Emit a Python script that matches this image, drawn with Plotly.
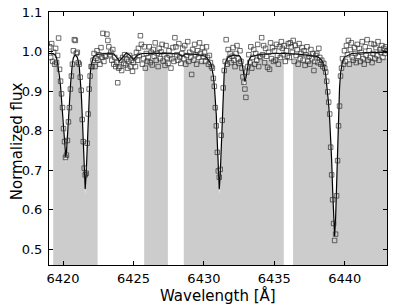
import numpy as np
import plotly.graph_objects as go

# ---- model spectrum ----
model_wave = [6419.0, 6419.3, 6419.47, 6419.54, 6419.61, 6419.68, 6419.75, 6419.82, 6419.89, 6419.96,
              6420.03, 6420.10, 6420.19, 6420.24, 6420.31, 6420.38, 6420.45, 6420.52, 6420.59, 6420.66,
              6420.73, 6420.85, 6421.0, 6421.08, 6421.15, 6421.22, 6421.29, 6421.36, 6421.43, 6421.50,
              6421.57, 6421.64, 6421.71, 6421.78, 6421.85, 6421.92, 6421.99, 6422.06, 6422.13, 6422.2,
              6422.4, 6423.0, 6423.6, 6423.8, 6424.0, 6424.25, 6424.5, 6424.75, 6425.0, 6425.25,
              6425.6, 6426.5, 6427.5, 6428.2, 6428.45, 6428.7, 6429.5, 6430.1, 6430.25, 6430.39,
              6430.46, 6430.53, 6430.60, 6430.67, 6430.74, 6430.81, 6430.88, 6430.95, 6431.02, 6431.09,
              6431.16, 6431.23, 6431.30, 6431.37, 6431.44, 6431.51, 6431.58, 6431.72, 6432.1, 6432.5,
              6432.63, 6432.70, 6432.77, 6432.84, 6432.91, 6432.98, 6433.05, 6433.12, 6433.19, 6433.33,
              6434.0, 6435.0, 6436.0, 6437.0, 6437.5, 6438.0, 6438.23, 6438.37, 6438.44, 6438.51,
              6438.58, 6438.65, 6438.72, 6438.79, 6438.86, 6438.93, 6439.00, 6439.07, 6439.14, 6439.21,
              6439.28, 6439.35, 6439.42, 6439.49, 6439.56, 6439.63, 6439.70, 6439.77, 6439.84, 6439.98,
              6440.5, 6441.5, 6443.0]
model_flux = [0.995, 0.995, 0.990, 0.983, 0.970, 0.955, 0.935, 0.912, 0.880, 0.840,
              0.800, 0.765, 0.733, 0.745, 0.780, 0.822, 0.868, 0.912, 0.948, 0.970,
              0.984, 0.992, 0.986, 0.976, 0.960, 0.932, 0.895, 0.838, 0.770, 0.705,
              0.652, 0.690, 0.762, 0.840, 0.900, 0.940, 0.964, 0.977, 0.984, 0.988,
              0.993, 0.995, 0.994, 0.985, 0.976, 0.986, 0.997, 0.990, 0.980, 0.990,
              0.995, 0.996, 0.995, 0.994, 0.988, 0.994, 0.993, 0.988, 0.982, 0.976,
              0.971, 0.964, 0.954, 0.938, 0.914, 0.885, 0.838, 0.770, 0.700, 0.652,
              0.690, 0.765, 0.848, 0.908, 0.945, 0.966, 0.977, 0.986, 0.991, 0.990,
              0.983, 0.972, 0.953, 0.934, 0.924, 0.932, 0.948, 0.966, 0.978, 0.987,
              0.993, 0.995, 0.995, 0.992, 0.990, 0.988, 0.983, 0.978, 0.972, 0.965,
              0.955, 0.940, 0.920, 0.895, 0.865, 0.828, 0.785, 0.725, 0.650, 0.580,
              0.533, 0.578, 0.660, 0.758, 0.848, 0.908, 0.944, 0.964, 0.975, 0.986,
              0.995, 0.997, 0.998]

obs_wave = [
    6419.05, 6419.12, 6419.19, 6419.26, 6419.33, 6419.40, 6419.47, 6419.54, 6419.61, 6419.68, 6419.75, 6419.82, 6419.89, 6419.96,
    6420.03, 6420.10, 6420.17, 6420.24, 6420.31, 6420.38, 6420.45, 6420.52, 6420.59, 6420.66, 6420.73, 6420.80, 6420.87, 6420.94,
    6421.01, 6421.08, 6421.15, 6421.22, 6421.29, 6421.36, 6421.43, 6421.50, 6421.57, 6421.64, 6421.71, 6421.78, 6421.85, 6421.92, 6421.99,
    6422.06, 6422.13, 6422.20, 6422.27, 6422.34, 6422.41, 6422.48, 6422.55, 6422.62, 6422.69, 6422.76, 6422.83, 6422.90, 6422.97,
    6423.04, 6423.11, 6423.18, 6423.25, 6423.32, 6423.39, 6423.46, 6423.53, 6423.60, 6423.67, 6423.74, 6423.81, 6423.88, 6423.95,
    6424.02, 6424.09, 6424.16, 6424.23, 6424.30, 6424.37, 6424.44, 6424.51, 6424.58, 6424.65, 6424.72, 6424.79, 6424.86, 6424.93,
    6425.00, 6425.07, 6425.14, 6425.21, 6425.28, 6425.35, 6425.42, 6425.49, 6425.56, 6425.63, 6425.70, 6425.77, 6425.84, 6425.91, 6425.98,
    6426.05, 6426.12, 6426.19, 6426.26, 6426.33, 6426.40, 6426.47, 6426.54, 6426.61, 6426.68, 6426.75, 6426.82, 6426.89, 6426.96,
    6427.03, 6427.10, 6427.17, 6427.24, 6427.31, 6427.38, 6427.45, 6427.52, 6427.59, 6427.66, 6427.73, 6427.80, 6427.87, 6427.94,
    6428.01, 6428.08, 6428.15, 6428.22, 6428.29, 6428.36, 6428.43, 6428.50, 6428.57, 6428.64, 6428.71, 6428.78, 6428.85, 6428.92, 6428.99,
    6429.06, 6429.13, 6429.20, 6429.27, 6429.34, 6429.41, 6429.48, 6429.55, 6429.62, 6429.69, 6429.76, 6429.83, 6429.90, 6429.97,
    6430.04, 6430.11, 6430.18, 6430.25, 6430.32, 6430.39, 6430.46, 6430.53, 6430.60, 6430.67, 6430.74, 6430.81, 6430.88, 6430.95,
    6431.02, 6431.09, 6431.16, 6431.23, 6431.30, 6431.37, 6431.44, 6431.51, 6431.58, 6431.65, 6431.72, 6431.79, 6431.86, 6431.93,
    6432.00, 6432.07, 6432.14, 6432.21, 6432.28, 6432.35, 6432.42, 6432.49, 6432.56, 6432.63, 6432.70, 6432.77, 6432.84, 6432.91, 6432.98,
    6433.05, 6433.12, 6433.19, 6433.26, 6433.33, 6433.40, 6433.47, 6433.54, 6433.61, 6433.68, 6433.75, 6433.82, 6433.89, 6433.96,
    6434.03, 6434.10, 6434.17, 6434.24, 6434.31, 6434.38, 6434.45, 6434.52, 6434.59, 6434.66, 6434.73, 6434.80, 6434.87, 6434.94,
    6435.01, 6435.08, 6435.15, 6435.22, 6435.29, 6435.36, 6435.43, 6435.50, 6435.57, 6435.64, 6435.71, 6435.78, 6435.85, 6435.92, 6435.99,
    6436.06, 6436.13, 6436.20, 6436.27, 6436.34, 6436.41, 6436.48, 6436.55, 6436.62, 6436.69, 6436.76, 6436.83, 6436.90, 6436.97,
    6437.04, 6437.11, 6437.18, 6437.25, 6437.32, 6437.39, 6437.46, 6437.53, 6437.60, 6437.67, 6437.74, 6437.81, 6437.88, 6437.95,
    6438.02, 6438.09, 6438.16, 6438.23, 6438.30, 6438.37, 6438.44, 6438.51, 6438.58, 6438.65, 6438.72, 6438.79, 6438.86, 6438.93,
    6439.00, 6439.07, 6439.14, 6439.21, 6439.28, 6439.35, 6439.42, 6439.49, 6439.56, 6439.63, 6439.70, 6439.77, 6439.84, 6439.91, 6439.98,
    6440.05, 6440.12, 6440.19, 6440.26, 6440.33, 6440.40, 6440.47, 6440.54, 6440.61, 6440.68, 6440.75, 6440.82, 6440.89, 6440.96,
    6441.03, 6441.10, 6441.17, 6441.24, 6441.31, 6441.38, 6441.45, 6441.52, 6441.59, 6441.66, 6441.73, 6441.80, 6441.87, 6441.94,
    6442.01, 6442.08, 6442.15, 6442.22, 6442.29, 6442.36, 6442.43, 6442.50, 6442.57, 6442.64, 6442.71, 6442.78, 6442.85, 6442.92, 6442.99,
]
obs_flux = [
    1.012, 0.985, 1.020, 0.975, 0.998, 0.968, 1.008, 0.972, 0.990, 1.034, 0.955, 0.925, 0.893, 0.858,
    0.805, 0.772, 0.732, 0.738, 0.775, 0.822, 0.858, 0.905, 0.938, 0.968, 1.002, 1.030, 1.028, 0.995,
    0.998, 0.972, 0.968, 0.935, 0.902, 0.828, 0.772, 0.705, 0.688, 0.692, 0.768, 0.842, 0.905, 0.938, 0.962,
    0.962, 0.978, 0.995, 0.962, 0.983, 1.002, 0.978, 0.992, 0.968, 1.010, 0.985, 1.046, 0.975, 0.990,
    0.988, 1.044, 1.028, 1.012, 0.992, 0.998, 0.978, 1.005, 0.968, 0.985, 0.962, 0.972, 0.921, 0.958,
    0.962, 0.978, 0.952, 0.985, 0.970, 0.992, 0.966, 0.981, 0.958, 0.975, 0.990, 0.962, 0.978, 0.950,
    0.972, 0.985, 0.962, 0.998, 0.978, 1.008, 0.990, 1.040, 1.018, 0.968, 0.982, 1.012, 0.958, 0.995, 0.976,
    0.985, 1.012, 0.972, 0.998, 0.966, 1.005, 0.988, 1.022, 0.978, 0.995, 0.962, 1.008, 0.982, 0.999,
    1.018, 0.976, 0.992, 0.965, 1.015, 0.984, 0.970, 1.002, 0.990, 0.958, 0.982, 1.010, 0.975, 1.035,
    1.012, 0.992, 0.978, 1.020, 0.986, 0.970, 0.995, 1.008, 0.982, 1.015, 0.968, 0.990, 1.025, 0.975, 0.998,
    0.985, 0.942, 1.005, 0.978, 1.018, 0.992, 0.968, 1.002, 0.985, 1.022, 0.995, 0.975, 1.010, 0.988,
    0.998, 0.975, 1.012, 0.985, 0.968, 0.990, 0.972, 0.962, 0.958, 0.932, 0.912, 0.858, 0.812, 0.745,
    0.698, 0.682, 0.702, 0.788, 0.826, 0.908, 0.952, 0.975, 1.030, 0.968, 1.005, 0.982, 0.995, 0.972,
    0.988, 1.010, 0.978, 0.962, 0.995, 1.015, 0.982, 0.970, 1.002, 0.975, 0.958, 0.936, 0.922, 0.905, 0.884,
    0.948, 0.962, 0.992, 0.972, 1.012, 0.958, 0.985, 1.005, 0.968, 0.995, 0.978, 1.018, 0.962, 0.988,
    0.985, 1.035, 0.992, 1.015, 0.972, 1.008, 0.988, 0.960, 0.998, 0.955, 1.022, 0.982, 1.010, 0.975,
    1.002, 0.978, 1.018, 0.990, 0.968, 1.012, 0.985, 1.025, 1.008, 0.992, 1.015, 0.975, 1.002, 0.988, 1.020,
    0.985, 1.022, 1.012, 0.998, 1.028, 0.975, 1.015, 0.990, 1.005, 0.968, 1.020, 0.982, 0.995, 1.010,
    0.978, 1.002, 0.965, 0.992, 1.012, 0.975, 0.988, 0.968, 1.005, 0.982, 0.995, 0.952, 0.975, 0.990,
    0.995, 0.972, 1.008, 0.985, 0.968, 0.978, 0.962, 0.970, 0.958, 0.948, 0.925, 0.898, 0.872, 0.842,
    0.758, 0.688, 0.625, 0.565, 0.522, 0.538, 0.635, 0.724, 0.812, 0.862, 0.938, 0.958, 0.982, 0.968, 1.002,
    0.975, 1.015, 0.992, 1.028, 0.968, 1.005, 1.022, 0.985, 0.978, 1.010, 0.995, 0.972, 1.018, 0.988,
    1.008, 0.975, 0.998, 1.025, 0.982, 0.968, 1.012, 0.990, 1.030, 0.978, 1.002, 0.985, 1.020, 0.972,
    0.995, 1.018, 0.982, 1.010, 0.990, 1.025, 0.978, 1.005, 0.998, 1.015, 0.985, 1.008, 0.995, 1.012, 1.002,
]

# ---- fitted segments (shaded) ----
seg_start = [6419.3, 6425.76, 6428.57, 6436.33]
seg_end = [6422.45, 6427.44, 6435.67, 6443.0]

x_ticks = [6420, 6425, 6430, 6435, 6440]
y_ticks = [0.5, 0.6, 0.7, 0.8, 0.9, 1.0, 1.1]

fig = go.Figure()

mw = np.array(model_wave)
mf = np.array(model_flux)
for a, b in zip(seg_start, seg_end):
    inside = mw[(mw > a) & (mw < b)]
    xs = np.concatenate([[a], inside, [b]])
    ys = np.interp(xs, mw, mf) - 0.015
    fig.add_trace(go.Scatter(x=xs, y=ys, mode="lines", fill="tozeroy",
                             line=dict(width=0), fillcolor="#cccccc",
                             hoverinfo="skip", showlegend=False))

fig.add_trace(go.Scatter(x=model_wave, y=model_flux, mode="lines",
                         line=dict(color="black", width=1.2), showlegend=False))

fig.add_trace(go.Scatter(x=obs_wave, y=obs_flux, mode="markers",
                         marker=dict(symbol="square-open", size=4.5,
                                     color="rgba(40,40,40,0.85)", line=dict(width=0.8)),
                         showlegend=False))

axis_common = dict(showline=True, linecolor="black", linewidth=1, mirror="ticks",
                   ticks="inside", ticklen=4, tickcolor="black", tickwidth=1,
                   showgrid=False, zeroline=False, automargin=False,
                   tickfont=dict(family="DejaVu Sans", size=13, color="black"))

fig.update_layout(
    width=407, height=305,
    margin=dict(l=49, r=20, t=12, b=40),
    paper_bgcolor="white", plot_bgcolor="white",
    font=dict(family="DejaVu Sans", color="black"),
    xaxis=dict(range=[6419, 6443], tickvals=x_ticks,
               ticktext=[str(v) for v in x_ticks], ticklabelstandoff=1,
               **axis_common),
    yaxis=dict(range=[0.46, 1.1], tickvals=y_ticks,
               ticktext=[f"{v:.1f}" for v in y_ticks], ticklabelstandoff=3,
               **axis_common),
    annotations=[
        dict(text="Wavelength [Å]", xref="paper", yref="paper", x=0.5, y=-0.122,
             xanchor="center", yanchor="middle", showarrow=False,
             font=dict(family="DejaVu Sans", size=15, color="black")),
        dict(text="Normalized flux", xref="paper", yref="paper", x=-0.094, y=0.49,
             xanchor="center", yanchor="middle", textangle=-90, showarrow=False,
             font=dict(family="DejaVu Sans", size=15, color="black")),
    ],
)

fig.write_html("out.html", config={"displayModeBar": False},
               post_script="document.body.style.margin='0';document.body.style.overflow='hidden';")
